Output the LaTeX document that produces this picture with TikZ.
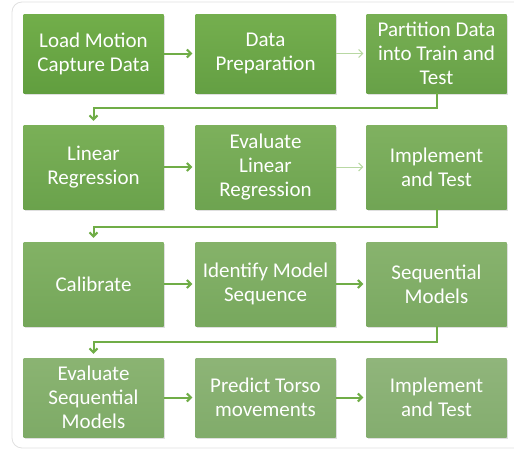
\documentclass[tikz,border=0pt]{standalone}
\usepackage{fontspec}
\setmainfont{Carlito}
\usetikzlibrary{arrows.meta,shadows}

\definecolor{topdark}{HTML}{72AE4A}
\definecolor{botdark}{HTML}{619E3F}
\definecolor{toplight}{HTML}{90B57B}
\definecolor{botlight}{HTML}{84AD6F}
\definecolor{linkgreen}{HTML}{70AD47}
\definecolor{faintgreen}{HTML}{B8D8A3}

\tikzset{
  stage/.style={minimum width=140pt, minimum height=79pt, inner sep=0pt,
    text=white, align=center, font=\fontsize{21}{24}\selectfont,
    top color=topdark!#1!toplight, bottom color=botdark!#1!botlight,
    drop shadow={opacity=0.25, shadow xshift=1pt, shadow yshift=-1.5pt}},
  link/.style={draw=linkgreen, line width=2pt, shorten >=3pt,
    -{Straight Barb[length=4pt,width=8pt]}},
  faint/.style={draw=faintgreen, line width=1pt, shorten >=3pt,
    -{Straight Barb[length=4pt,width=8pt]}}
}

\begin{document}
\begin{tikzpicture}[x=1pt,y=-1pt]
  \useasboundingbox (0,0) rectangle (514,450);

  % Frame around the flow
  \draw[black!12, line width=0.8pt, rounded corners=10pt] (12,2) rectangle (540,448);

  % First row
  \node[stage=100] (load) at (93.5,53.5) {Load Motion\\Capture Data};
  \node[stage=91] (prep) at (265.5,53.5) {Data\\Preparation};
  \node[stage=82] (part) at (436.5,53.5) {Partition Data\\into Train and\\Test};

  % Second row
  \node[stage=73, minimum height=84pt] (linreg) at (93.5,167) {Linear\\Regression};
  \node[stage=64, minimum height=84pt] (evallin) at (265.5,167) {Evaluate\\Linear\\Regression};
  \node[stage=55, minimum height=84pt] (impl1) at (436.5,167) {Implement\\and Test};

  % Third row
  \node[stage=45, minimum height=84pt] (calib) at (93.5,284) {Calibrate};
  \node[stage=36, minimum height=84pt] (ident) at (265.5,284) {Identify Model\\Sequence};
  \node[stage=27, minimum height=84pt] (seqmod) at (436.5,284) {Sequential\\Models};

  % Fourth row
  \node[stage=18] (evalseq) at (93.5,397.5) {Evaluate\\Sequential\\Models};
  \node[stage=9] (torso) at (265.5,397.5) {Predict Torso\\movements};
  \node[stage=0] (impl2) at (436.5,397.5) {Implement\\and Test};

  % Arrows inside the rows
  \draw[link] (load) -- (prep);
  \draw[faint] (prep) -- (part);
  \draw[link] (linreg) -- (evallin);
  \draw[faint] (evallin) -- (impl1);
  \draw[link] (calib) -- (ident);
  \draw[link] (ident) -- (seqmod);
  \draw[link] (evalseq) -- (torso);
  \draw[link] (torso) -- (impl2);

  % Turns from one row to the next
  \coordinate (turn1) at (436.5,108);
  \coordinate (turn2) at (436.5,227);
  \coordinate (turn3) at (436.5,342);
  \draw[link, shorten >=4pt] (part.south) -- (turn1) -| (linreg.north);
  \draw[link, shorten >=4pt] (impl1.south) -- (turn2) -| (calib.north);
  \draw[link, shorten >=4pt] (seqmod.south) -- (turn3) -| (evalseq.north);
\end{tikzpicture}
\end{document}
